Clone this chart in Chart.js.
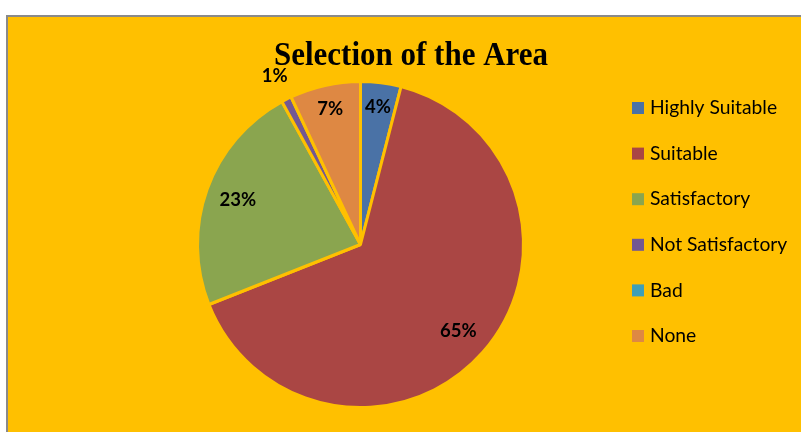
<!DOCTYPE html>
<html>
<head>
<meta charset="utf-8">
<script src="https://cdn.jsdelivr.net/npm/chart.js@4"></script>
<style>
  html, body { margin: 0; padding: 0; background: #ffffff; overflow: hidden; }
  #frame {
    position: absolute; left: 6px; top: 15px; width: 820px; height: 440px;
    background: #FFC000; border: 2px solid #8a8a8a; box-sizing: border-box;
  }
  #wrap { position: absolute; left: 0; top: 0; width: 801px; height: 432px; }
</style>
</head>
<body>
<div id="frame"></div>
<div id="wrap"><canvas id="c" width="801" height="432"></canvas></div>
<script>
// Survey responses on how suitable the area is
const title = 'Selection of the Area';
const categories = ['Highly Suitable', 'Suitable', 'Satisfactory', 'Not Satisfactory', 'Bad', 'None'];
const shares = [4, 65, 23, 1, 0, 7];
const colors = ['#4A72A6', '#AA4644', '#8AA54F', '#735893', '#3E9FB8', '#DE8843'];
const bg = '#FFC000';

const decor = {
  id: 'decor',
  afterDraw(chart) {
    const ctx = chart.ctx;
    ctx.save();
    // title
    ctx.fillStyle = '#000';
    ctx.font = 'bold 31px "Liberation Serif", "Times New Roman", serif';
    ctx.textAlign = 'center';
    ctx.textBaseline = 'alphabetic';
    ctx.save();
    ctx.translate(411, 65);
    ctx.scale(1, 1.08);
    ctx.fillText(title, 0, 0);
    ctx.restore();

    // percentage labels
    const meta = chart.getDatasetMeta(0);
    ctx.font = 'bold 18.5px Lato, "Open Sans", sans-serif';
    ctx.textBaseline = 'middle';
    meta.data.forEach((arc, i) => {
      const v = shares[i];
      if (!v) return;
      const p = arc.getProps(['x', 'y', 'startAngle', 'endAngle', 'outerRadius'], true);
      const mid = (p.startAngle + p.endAngle) / 2;
      const f = v < 2 ? 1.16 : (v < 10 ? 0.85 : 0.8);
      const x = p.x + Math.cos(mid) * p.outerRadius * f;
      const y = p.y + Math.sin(mid) * p.outerRadius * f;
      ctx.fillText(v + '%', x, y);
    });

    // legend
    ctx.font = '19.3px Lato, "Open Sans", sans-serif';
    ctx.textAlign = 'left';
    categories.forEach((name, i) => {
      const y = 108 + i * 45.6;
      ctx.fillStyle = colors[i];
      ctx.fillRect(632, y - 6, 12, 12);
      ctx.fillStyle = '#000';
      ctx.fillText(name, 650, y);
    });
    ctx.restore();
  }
};

new Chart(document.getElementById('c'), {
  type: 'pie',
  data: {
    labels: categories,
    datasets: [{
      data: shares,
      backgroundColor: colors,
      borderColor: bg,
      borderWidth: 3
    }]
  },
  options: {
    responsive: false,
    animation: false,
    layout: { padding: { left: 196, right: 276, top: 80, bottom: 23 } },
    plugins: {
      legend: { display: false },
      tooltip: { enabled: false },
      title: { display: false }
    }
  },
  plugins: [decor]
});
</script>
</body>
</html>
